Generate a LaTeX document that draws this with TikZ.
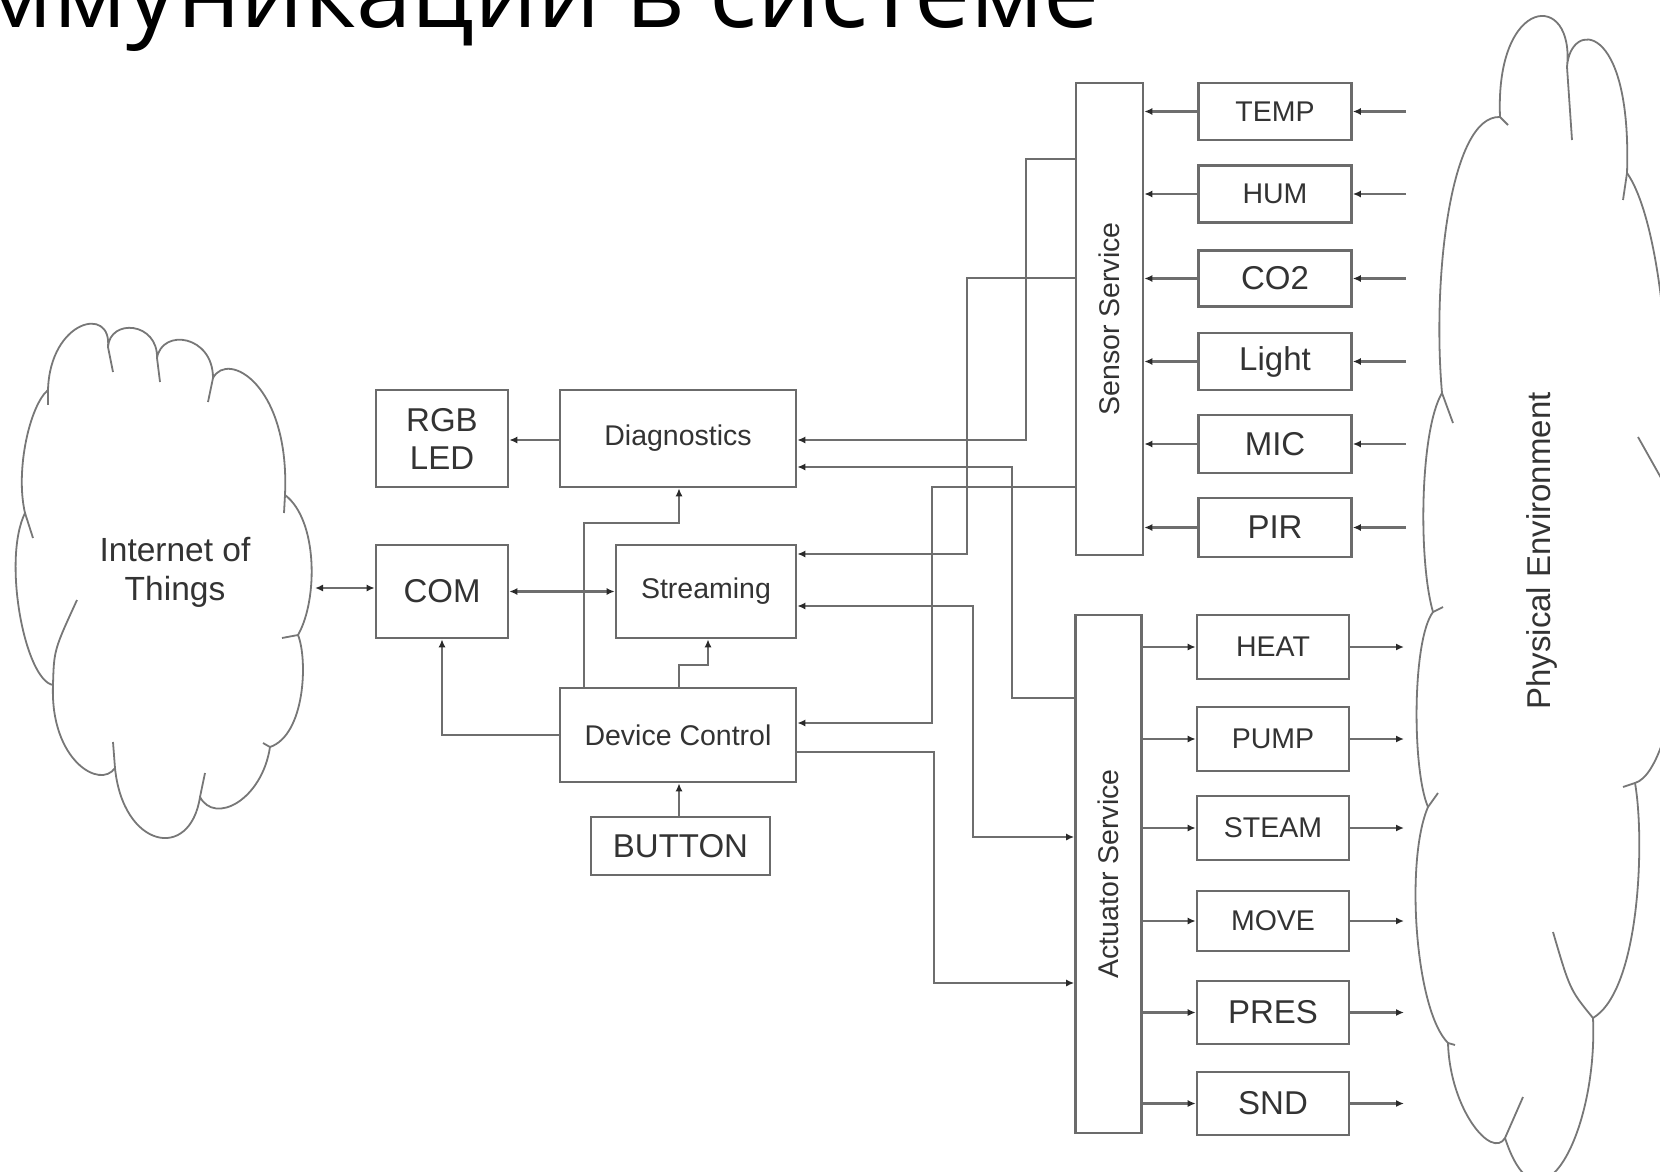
\documentclass[tikz,border=0pt]{standalone}
\usepackage{fontspec}
\setmainfont{Liberation Sans}
\newfontfamily\titlefont{Open Sans}
\usetikzlibrary{arrows.meta,calc}
\definecolor{boxgray}{HTML}{6B6B6B}
\definecolor{linegray}{HTML}{6E6E6E}
\definecolor{cloudgray}{HTML}{777777}
\definecolor{txt}{HTML}{333333}
\definecolor{tipc}{HTML}{2A2A2A}
\begin{document}
\begin{tikzpicture}[x=1pt,y=-1pt,
  box/.style={draw=boxgray, line width=2.6pt, fill=white, inner sep=0pt, text=txt, align=center, font=\fontsize{28.5}{34}\selectfont},
  bigtxt/.style={font=\fontsize{33}{38}\selectfont},
  conn/.style={draw=linegray, line width=2.3pt},
  arr/.style={arrows={-Latex[length=8pt,width=7pt,color=tipc]}},
  arrboth/.style={arrows={Latex[length=8pt,width=7pt,color=tipc]-Latex[length=8pt,width=7pt,color=tipc]}},
  cloudline/.style={draw=cloudgray, line width=1.8pt, line join=round},
  lbl/.style={text=txt, inner sep=0pt, align=center}
]
\useasboundingbox (0,0) rectangle (1660,1172);

% title (cut off at the top and left, as in the reference)
\begin{scope}
\clip (0,0) rectangle (1660,1172);
\node[anchor=base east, inner sep=0pt, text=black, font=\titlefont\fontsize{100}{100}\selectfont] (title) at (1100,28) {ммуникации в системе};
\end{scope}

% ---------- Internet of Things cloud ----------
\draw[cloudline] (48,390) .. controls (50,320) and (112,305) .. (108,347)
 .. controls (110,318) and (158,322) .. (157,358)
 .. controls (162,328) and (213,335) .. (213,378)
 .. controls (228,350) and (290,385) .. (285,495)
 .. controls (318,520) and (318,600) .. (298,635)
 .. controls (308,660) and (305,735) .. (270,747)
 .. controls (262,800) and (215,825) .. (200,797)
 .. controls (190,862) and (123,848) .. (115,768)
 .. controls (100,790) and (50,760) .. (53,685)
 .. controls (25,680) and (2,560) .. (25,513)
 .. controls (15,470) and (30,405) .. (48,390) -- cycle;
\draw[cloudline] (48,390) -- (48,405);
\draw[cloudline] (108,347) -- (113,372);
\draw[cloudline] (157,358) -- (160,382);
\draw[cloudline] (213,378) -- (208,402);
\draw[cloudline] (285,495) -- (284,513);
\draw[cloudline] (298,635) -- (282,638);
\draw[cloudline] (270,747) -- (263,743);
\draw[cloudline] (200,797) -- (205,773);
\draw[cloudline] (115,768) -- (113,742);
\draw[cloudline] (53,685) .. controls (54,650) .. (77,600);
\draw[cloudline] (25,513) -- (33,538);
\node[lbl, font=\fontsize{33.5}{39}\selectfont] (iot) at (175,572) {Internet of\\Things};
\coordinate (iotedge) at (315,588);

% ---------- Physical Environment cloud ----------
\draw[cloudline] (1500,117) .. controls (1495,-5) and (1575,-10) .. (1567,67)
 .. controls (1570,20) and (1632,20) .. (1627,173)
 .. controls (1660,220) and (1675,380) .. (1665,485)
 .. controls (1705,530) and (1680,770) .. (1635,783)
 .. controls (1645,840) and (1640,990) .. (1593,1018)
 .. controls (1598,1130) and (1540,1245) .. (1505,1138)
 .. controls (1492,1160) and (1450,1110) .. (1448,1043)
 .. controls (1415,1010) and (1405,860) .. (1428,807)
 .. controls (1412,770) and (1412,640) .. (1433,612)
 .. controls (1418,560) and (1420,430) .. (1442,393)
 .. controls (1432,280) and (1450,115) .. (1500,117) -- cycle;
\draw[cloudline] (1500,117) -- (1508,125);
\draw[cloudline] (1567,67) -- (1572,140);
\draw[cloudline] (1627,173) -- (1623,200);
\draw[cloudline] (1665,485) -- (1638,437);
\draw[cloudline] (1635,783) -- (1623,787);
\draw[cloudline] (1593,1018) .. controls (1570,990) .. (1553,932);
\draw[cloudline] (1505,1138) -- (1523,1097);
\draw[cloudline] (1448,1043) -- (1455,1045);
\draw[cloudline] (1428,807) -- (1438,793);
\draw[cloudline] (1433,612) -- (1443,607);
\draw[cloudline] (1442,393) -- (1453,423);
\node[lbl, font=\fontsize{33}{38}\selectfont, rotate=90] (pe) at (1542,551) {Physical Environment};
\coordinate (envin) at (1406,0);
\coordinate (envout) at (1404,0);

% ---------- central blocks ----------
\node[box, bigtxt, minimum width=132pt, minimum height=97pt] (rgb) at (442,438.5) {RGB\\LED};
\node[box, minimum width=236pt, minimum height=97pt] (dg) at (678,438.5) {Diagnostics};
\node[box, bigtxt, minimum width=132pt, minimum height=93pt] (com) at (442,591.5) {COM};
\node[box, minimum width=180pt, minimum height=93pt] (st) at (706,591.5) {Streaming};
\node[box, minimum width=236pt, minimum height=94pt] (dc) at (678,735) {Device Control};
\node[box, bigtxt, minimum width=179pt, minimum height=58pt] (btn) at (680.5,846) {BUTTON};

% ---------- services ----------
\node[box, minimum width=67pt, minimum height=472pt] (ss) at (1109.5,319) {\rotatebox{90}{Sensor Service}};
\node[box, font=\fontsize{28.5}{34}\selectfont, minimum width=66pt, minimum height=518pt] (as) at (1108.5,874) {\rotatebox{90}{Actuator Service}};

% ---------- sensors ----------
\node[box, minimum width=153pt, minimum height=57pt] (temp) at (1275,111.5) {TEMP};
\node[box, minimum width=153pt, minimum height=57pt] (hum) at (1275,194) {HUM};
\node[box, bigtxt, minimum width=153pt, minimum height=56pt] (co2) at (1275,278.5) {CO2};
\node[box, bigtxt, minimum width=153pt, minimum height=57pt] (light) at (1275,361.5) {Light};
\node[box, bigtxt, minimum width=153pt, minimum height=58pt] (mic) at (1275,444) {MIC};
\node[box, bigtxt, minimum width=153pt, minimum height=59pt] (pir) at (1275,527.5) {PIR};

% ---------- actuators ----------
\node[box, minimum width=152pt, minimum height=64pt] (heat) at (1273,647) {HEAT};
\node[box, minimum width=152pt, minimum height=64pt] (pump) at (1273,739) {PUMP};
\node[box, minimum width=152pt, minimum height=64pt] (steam) at (1273,828) {STEAM};
\node[box, minimum width=152pt, minimum height=60pt] (move) at (1273,921) {MOVE};
\node[box, bigtxt, minimum width=152pt, minimum height=63pt] (pres) at (1273,1012.5) {PRES};
\node[box, bigtxt, minimum width=152pt, minimum height=63pt] (snd) at (1273,1103.5) {SND};

% ---------- connectors ----------
\draw[conn, arrboth] (iotedge) -- (com.west |- iotedge);
\draw[conn, arrboth] (com.east) -- (st.west);
\draw[conn, arr] (dg.west |- 0,440) -- (rgb.east |- 0,440);
\draw[conn, arr] (dc.north -| 584,0) |- (679,523) -- (dg.south -| 679,0);
\draw[conn, arr] (dc.west) -| (com.south);
\draw[conn, arr] (dc.north -| 679,0) |- (708,665) -- (st.south -| 708,0);
\draw[conn, arr] (btn.north -| 679,0) -- (dc.south -| 679,0);

\draw[conn, arr] (ss.west |- 0,159) -| (1026,440) -- (dg.east |- 0,440);
\draw[conn, arr] (ss.west |- 0,278) -| (967,554) -- (st.east |- 0,554);
\draw[conn, arr] (ss.west |- 0,487) -| (932,723) -- (dc.east |- 0,723);
\draw[conn, arr] (as.west |- 0,698) -| (1012,467) -- (dg.east |- 0,467);
\draw[conn, arrboth] (st.east |- 0,606) -| (973,837) -- (as.west |- 0,837);
\draw[conn, arr] (dc.east |- 0,752) -| (934,983) -- (as.west |- 0,983);

\foreach \n in {temp,hum,co2,light,mic,pir}{
  \draw[conn, arr] (\n.west) -- (ss.east |- \n.west);
  \draw[conn, arr] (\n.east -| envin) -- (\n.east);
}
\foreach \n in {heat,pump,steam,move,pres,snd}{
  \draw[conn, arr] (as.east |- \n.west) -- (\n.west);
  \draw[conn, arr] (\n.east) -- (\n.east -| envout);
}
\end{tikzpicture}
\end{document}
